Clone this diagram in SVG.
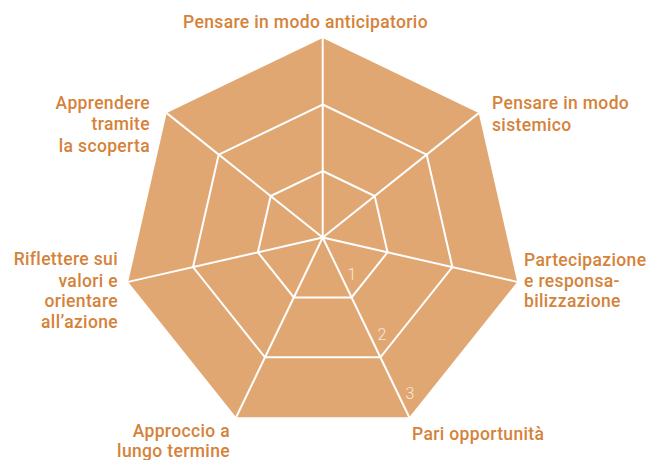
<svg xmlns="http://www.w3.org/2000/svg" width="649" height="460" viewBox="0 0 649 460">
<style>
.lbl{font-family:Roboto,"Liberation Sans",sans-serif;font-weight:500;font-size:17.5px;fill:#D5823A;letter-spacing:0.35px}
.r{text-anchor:end}
.num{font-family:Roboto,"Liberation Sans",sans-serif;font-weight:300;font-size:16px;fill:#F6E7D8;text-anchor:middle}
.grid{fill:none;stroke:#FFFFFF;stroke-width:2;stroke-linejoin:miter}
</style>
<rect width="649" height="460" fill="#FFFFFF"/>
<g id="chart">
<polygon points="322.7,38 478.68,113.11 517.2,281.89 409.26,417.24 236.14,417.24 128.2,281.89 166.72,113.11" fill="#E0A772"/>
<polygon class="grid" points="322.7,104.5 426.68,154.58 452.37,267.1 380.41,357.33 264.99,357.33 193.03,267.1 218.72,154.58"/>
<polygon class="grid" points="322.7,171 374.69,196.04 387.53,252.3 351.55,297.42 293.85,297.42 257.87,252.3 270.71,196.04"/>
</g>
<g id="connectors" stroke="#FFFFFF" stroke-width="2">
<line x1="322.7" y1="237.5" x2="322.7" y2="38"/>
<line x1="322.7" y1="237.5" x2="478.68" y2="113.11"/>
<line x1="322.7" y1="237.5" x2="517.2" y2="281.89"/>
<line x1="322.7" y1="237.5" x2="409.26" y2="417.24"/>
<line x1="322.7" y1="237.5" x2="236.14" y2="417.24"/>
<line x1="322.7" y1="237.5" x2="128.2" y2="281.89"/>
<line x1="322.7" y1="237.5" x2="166.72" y2="113.11"/>
</g>
<g id="scale">
<text class="num" x="352" y="280">1</text>
<text class="num" x="382" y="340">2</text>
<text class="num" x="410" y="399">3</text>
</g>
<g id="node-anticipatorio"><text class="lbl" x="305.5" y="27.5" text-anchor="middle">Pensare in modo anticipatorio</text></g>
<g id="node-sistemico"><text class="lbl" x="492" y="109">Pensare in modo</text><text class="lbl" x="492" y="131">sistemico</text></g>
<g id="node-partecipazione"><text class="lbl" x="524" y="266">Partecipazione</text><text class="lbl" x="524" y="287">e responsa-</text><text class="lbl" x="524" y="307">bilizzazione</text></g>
<g id="node-pari"><text class="lbl" x="412" y="440">Pari opportunità</text></g>
<g id="node-approccio"><text class="lbl r" x="230" y="437">Approccio a</text><text class="lbl r" x="230" y="457">lungo termine</text></g>
<g id="node-riflettere"><text class="lbl r" x="118" y="265">Riflettere sui</text><text class="lbl r" x="118" y="287">valori e</text><text class="lbl r" x="118" y="307">orientare</text><text class="lbl r" x="118" y="328">all’azione</text></g>
<g id="node-apprendere"><text class="lbl r" x="150" y="108.5">Apprendere</text><text class="lbl r" x="150" y="130">tramite</text><text class="lbl r" x="150" y="151.5">la scoperta</text></g>
</svg>
